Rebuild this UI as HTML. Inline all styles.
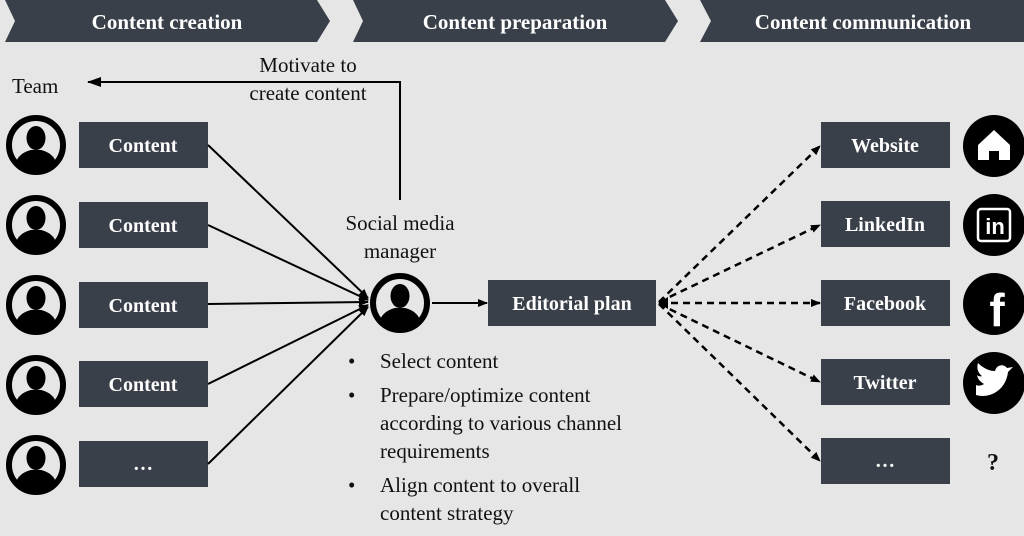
<!DOCTYPE html>
<html><head><meta charset="utf-8"><style>
html,body{margin:0;padding:0;background:#e6e6e6;}
svg{display:block;}
text{font-family:"Liberation Serif",serif;}
.h{fill:#fff;font-weight:bold;font-size:21px;text-anchor:middle;}
.b{fill:#fff;font-weight:bold;font-size:20px;text-anchor:middle;}
.t{fill:#111;font-size:21px;}
</style></head><body>
<svg width="1024" height="536" viewBox="0 0 1024 536" xmlns="http://www.w3.org/2000/svg">
<defs>
<clipPath id="cc"><circle r="25"/></clipPath>
<symbol id="p" viewBox="-32 -32 64 64">
<circle r="27" fill="#e6e6e6" stroke="#000" stroke-width="6"/>
<g clip-path="url(#cc)" fill="#000">
<ellipse cx="0" cy="-7" rx="9.5" ry="12"/>
<path d="M-22 28 C-22 12 -13 7 -5 5 L5 5 C13 7 22 12 22 28 Z"/>
</g>
</symbol>
<marker id="a" markerWidth="10" markerHeight="10" refX="9" refY="5" orient="auto" markerUnits="userSpaceOnUse"><path d="M0 1 L10 5 L0 9 Z" fill="#000"/></marker>
<marker id="a2" markerWidth="14" markerHeight="12" refX="13" refY="6" orient="auto" markerUnits="userSpaceOnUse"><path d="M0 1 L14 6 L0 11 Z" fill="#000"/></marker>
</defs>
<rect width="1024" height="536" fill="#e6e6e6"/>
<polygon points="5,0 317,0 330,21 317,42 5,42 15,21" fill="#3a4049"/>
<polygon points="353,0 665,0 678,21 665,42 353,42 363,21" fill="#3a4049"/>
<polygon points="700,0 1024,0 1024,42 700,42 711,21" fill="#3a4049"/>
<text class="h" x="167" y="29">Content creation</text>
<text class="h" x="515" y="29">Content preparation</text>
<text class="h" x="863" y="29">Content communication</text>
<text class="t" x="12" y="93">Team</text>
<text class="t" x="308" y="72" text-anchor="middle">Motivate to</text>
<text class="t" x="308" y="100" text-anchor="middle">create content</text>
<path d="M400 200 L400 82 L88 82" fill="none" stroke="#000" stroke-width="2" marker-end="url(#a2)"/>
<g>
<use href="#p" x="4" y="113" width="64" height="64"/>
<use href="#p" x="4" y="193" width="64" height="64"/>
<use href="#p" x="4" y="273" width="64" height="64"/>
<use href="#p" x="4" y="353" width="64" height="64"/>
<use href="#p" x="4" y="433" width="64" height="64"/>
</g>
<g fill="#3a4049">
<rect x="79" y="122" width="129" height="46"/>
<rect x="79" y="202" width="129" height="46"/>
<rect x="79" y="282" width="129" height="46"/>
<rect x="79" y="361" width="129" height="46"/>
<rect x="79" y="441" width="129" height="46"/>
</g>
<text class="b" x="143" y="152">Content</text>
<text class="b" x="143" y="232">Content</text>
<text class="b" x="143" y="312">Content</text>
<text class="b" x="143" y="391">Content</text>
<text class="b" x="143" y="470">…</text>
<g stroke="#000" stroke-width="2" fill="none" marker-end="url(#a)">
<line x1="208" y1="145" x2="368" y2="298"/>
<line x1="208" y1="225" x2="368" y2="300"/>
<line x1="208" y1="304" x2="368" y2="302"/>
<line x1="208" y1="384" x2="368" y2="305"/>
<line x1="208" y1="464" x2="368" y2="307"/>
</g>
<text class="t" x="400" y="230" text-anchor="middle">Social media</text>
<text class="t" x="400" y="258" text-anchor="middle">manager</text>
<use href="#p" x="368" y="271" width="64" height="64"/>
<line x1="432" y1="303" x2="487" y2="303" stroke="#000" stroke-width="2" marker-end="url(#a)"/>
<rect x="488" y="280" width="168" height="46" fill="#3a4049"/>
<text class="b" x="572" y="310">Editorial plan</text>
<g class="t">
<text x="348" y="368">•</text><text x="380" y="368">Select content</text>
<text x="348" y="402">•</text><text x="380" y="402">Prepare/optimize content</text>
<text x="380" y="430">according to various channel</text>
<text x="380" y="458">requirements</text>
<text x="348" y="492">•</text><text x="380" y="492">Align content to overall</text>
<text x="380" y="520">content strategy</text>
</g>
<g stroke="#000" stroke-width="2.5" fill="none" stroke-dasharray="7,5" marker-end="url(#a)">
<line x1="659" y1="302" x2="820" y2="146"/>
<line x1="659" y1="302" x2="820" y2="225"/>
<line x1="659" y1="303" x2="820" y2="303"/>
<line x1="659" y1="304" x2="820" y2="382"/>
<line x1="659" y1="304" x2="820" y2="461"/>
</g>
<path d="M658 303 L668 297 L668 309 Z" fill="#000"/>
<g fill="#3a4049">
<rect x="821" y="122" width="129" height="46"/>
<rect x="821" y="201" width="129" height="46"/>
<rect x="821" y="280" width="129" height="46"/>
<rect x="821" y="359" width="129" height="46"/>
<rect x="821" y="438" width="129" height="46"/>
</g>
<text class="b" x="885" y="152">Website</text>
<text class="b" x="885" y="231">LinkedIn</text>
<text class="b" x="885" y="310">Facebook</text>
<text class="b" x="885" y="389">Twitter</text>
<text class="b" x="885" y="467">…</text>
<g fill="#000">
<circle cx="994" cy="146" r="31"/>
<circle cx="994" cy="225" r="31"/>
<circle cx="994" cy="304" r="31"/>
<circle cx="994" cy="383" r="31"/>
</g>
<path d="M994 130 L1010 145 L1010 160 L999 160 L999 151 L989 151 L989 160 L978 160 L978 145 Z" fill="#fff"/>
<rect x="978" y="209" width="32" height="32" rx="3" fill="none" stroke="#fff" stroke-width="2.5"/>
<text x="995" y="234" fill="#fff" font-size="22" font-weight="bold" text-anchor="middle" style="font-family:'Liberation Sans',sans-serif">in</text>
<text x="997" y="326" fill="#fff" font-size="46" font-weight="bold" text-anchor="middle" style="font-family:'Liberation Sans',sans-serif">f</text>
<path d="M976 395 C990 399 1006 390 1008 372 L1013 367 L1007 368 C1004 364 997 364 995 371 C988 371 982 367 978 363 C976 369 979 374 982 376 C980 377 978 376 977 375 C978 380 981 382 984 384 C981 386 978 386 976 385 Z" fill="#fff"/>
<text x="993" y="470" font-size="24" font-weight="bold" text-anchor="middle" fill="#111">?</text>
</svg>
</body></html>
